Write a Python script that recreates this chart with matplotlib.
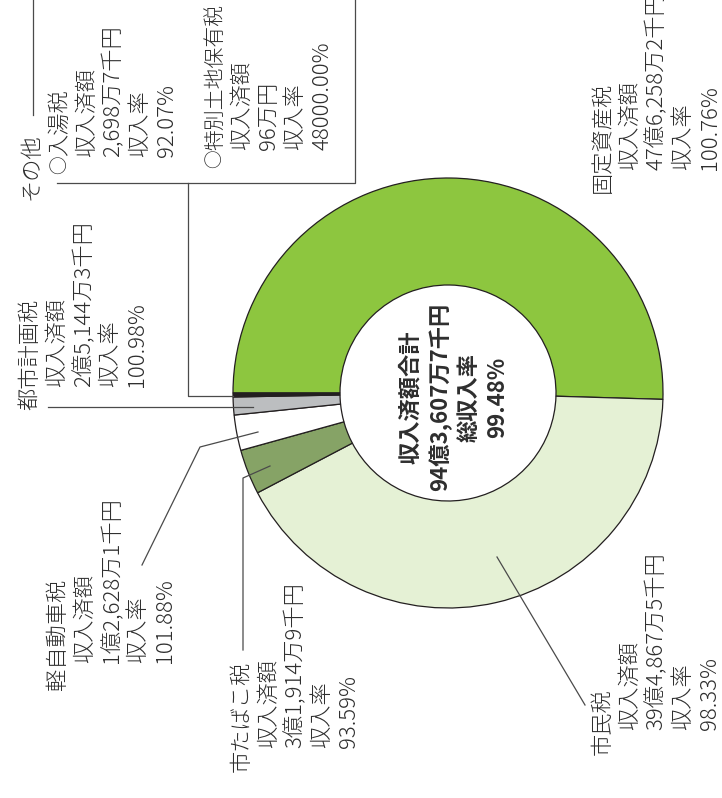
import matplotlib.pyplot as plt

plt.rcParams["font.family"] = ["Noto Sans CJK JP", "DejaVu Sans"]

# revenue by tax (100 million yen), in ring order
taxes = ["固定資産税", "市民税", "市たばこ税", "都市計画税", "軽自動車税", "その他"]
amounts = [47.6258, 39.4868, 3.1915, 2.5144, 1.2628, 0.2794]
amount_text = ["47億6,258万2千円", "39億4,867万5千円", "3億1,914万9千円",
               "2億5,144万3千円", "1億2,628万1千円"]
rate_text = ["100.76%", "98.33%", "93.59%", "100.98%", "101.88%"]

other_items = ["入湯税", "特別土地保有税"]
other_amount_text = ["2,698万7千円", "96万円"]
other_rate_text = ["92.07%", "48000.00%"]

total_text = "94億3,607万7千円"
total_rate_text = "99.48%"

colors = ["#8dc63f", "#e5f1d5", "#86a366", "#ffffff", "#bcbec0", "#231f20"]
TXT = "#2e2e2e"
LINE = "#4a4a4a"
SIZE = 16.0


def vtext(ax, x, y, s, size=SIZE, **kw):
    ax.text(x, y, s, rotation=90, ha="center", va="bottom", fontsize=size,
            color=TXT, fontweight="light", **kw)


def label_block(ax, lines, x0, y_first, y_rest, pitch=26.8):
    # first line is the heading, the rest sit one character further along
    for i, line in enumerate(lines):
        vtext(ax, x0 + i * pitch, y_first if i == 0 else y_rest, line)


fig = plt.figure(figsize=(7.22, 7.98), dpi=100)
ax = fig.add_axes([0, 0, 1, 1])

ax.pie(amounts, radius=215, center=(448, 393), startangle=180, counterclock=True,
       colors=colors, wedgeprops=dict(width=107, edgecolor="#231f20", linewidth=0.9))
ax.set_xlim(0, 722)
ax.set_ylim(798, 0)
ax.set_aspect("equal")
ax.axis("off")

# centre text
center_lines = ["収入済額合計", total_text, "総収入率", total_rate_text]
for i, line in enumerate(center_lines):
    ax.text(411 + i * 29, 397, line, rotation=90, ha="center", va="center",
            fontsize=16, fontweight="bold", color=TXT)


def lines_for(k):
    return [taxes[k], "収入済額", amount_text[k], "収入率", rate_text[k]]


label_block(ax, lines_for(0), 603, 193, 170)
label_block(ax, lines_for(1), 603, 755, 730)
label_block(ax, lines_for(2), 242, 772, 748)
label_block(ax, lines_for(3), 30, 410, 387)
label_block(ax, lines_for(4), 58, 690, 663)

# その他 box
vtext(ax, 32, 200, taxes[5])
for k, x0, y1, y2 in [(0, 60, 174, 157), (1, 215, 168, 150)]:
    vtext(ax, x0, y1, "○", size=13.5)
    vtext(ax, x0, y1 - 18, other_items[k], size=15 if k else SIZE)
    label_block(ax, ["", "収入済額", other_amount_text[k], "収入率", other_rate_text[k]],
                x0, y1, y2)

# leader lines
kw = dict(color=LINE, linewidth=0.9)
ax.plot([585, 497], [705, 557], **kw)
ax.plot([243, 243, 270], [650, 478, 466], **kw)
ax.plot([142, 200, 258], [565, 447, 432], **kw)
ax.plot([48, 253], [407, 407], **kw)
ax.plot([188, 188, 233], [183, 396, 396], **kw)
ax.plot([33, 33], [0, 115], **kw)
ax.plot([57, 355, 355], [183, 183, 0], **kw)

fig.savefig("out.png", dpi=100)
